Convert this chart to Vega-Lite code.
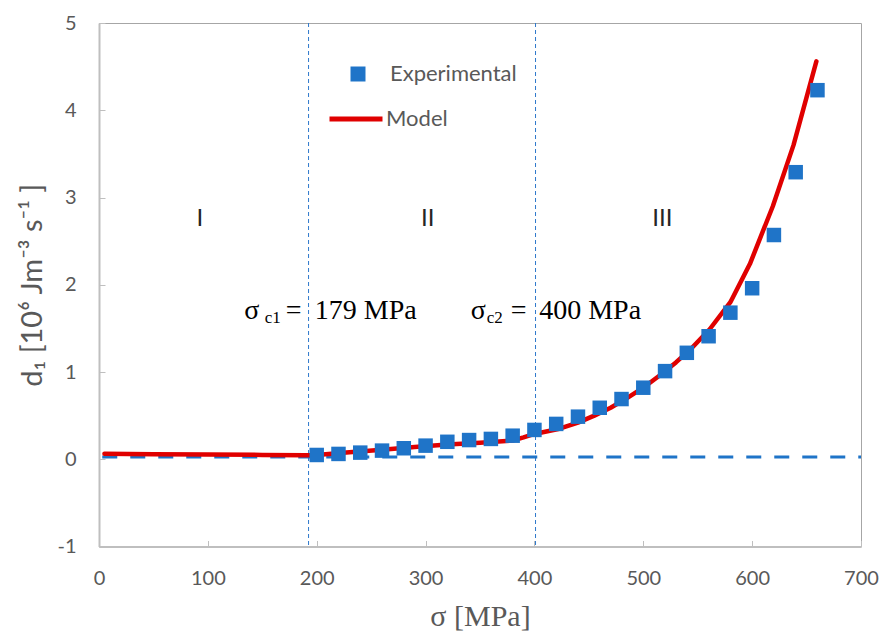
{
  "$schema": "https://vega.github.io/schema/vega-lite/v6.json",
  "autosize": {"type": "none"},
  "width": 762,
  "height": 523.5,
  "padding": {"left": 99, "top": 23, "right": 21, "bottom": 88.5},
  "background": "white",
  "config": {
    "view": {"stroke": "#a6a6a6", "strokeWidth": 1},
    "axis": {
      "grid": false,
      "domainColor": "#bfbfbf",
      "domainWidth": 2,
      "tickColor": "#bfbfbf",
      "tickSize": -6,
      "tickWidth": 1,
      "labelFlush": false,
      "labelOverlap": false,
      "labelFont": "Lato",
      "labelFontSize": 20,
      "labelColor": "#595959",
      "titleColor": "#595959",
      "titleFontWeight": "normal"
    }
  },
  "datasets": {
    "experimental": [
      {"sigma": 200, "d1": 0.049, "series": "Experimental"},
      {"sigma": 220, "d1": 0.061, "series": "Experimental"},
      {"sigma": 240, "d1": 0.076, "series": "Experimental"},
      {"sigma": 260, "d1": 0.099, "series": "Experimental"},
      {"sigma": 280, "d1": 0.126, "series": "Experimental"},
      {"sigma": 300, "d1": 0.156, "series": "Experimental"},
      {"sigma": 320, "d1": 0.2, "series": "Experimental"},
      {"sigma": 340, "d1": 0.22, "series": "Experimental"},
      {"sigma": 360, "d1": 0.233, "series": "Experimental"},
      {"sigma": 380, "d1": 0.27, "series": "Experimental"},
      {"sigma": 400, "d1": 0.336, "series": "Experimental"},
      {"sigma": 420, "d1": 0.405, "series": "Experimental"},
      {"sigma": 440, "d1": 0.488, "series": "Experimental"},
      {"sigma": 460, "d1": 0.59, "series": "Experimental"},
      {"sigma": 480, "d1": 0.69, "series": "Experimental"},
      {"sigma": 500, "d1": 0.82, "series": "Experimental"},
      {"sigma": 520, "d1": 1.01, "series": "Experimental"},
      {"sigma": 540, "d1": 1.22, "series": "Experimental"},
      {"sigma": 560, "d1": 1.41, "series": "Experimental"},
      {"sigma": 580, "d1": 1.68, "series": "Experimental"},
      {"sigma": 600, "d1": 1.96, "series": "Experimental"},
      {"sigma": 620, "d1": 2.57, "series": "Experimental"},
      {"sigma": 640, "d1": 3.29, "series": "Experimental"},
      {"sigma": 660, "d1": 4.23, "series": "Experimental"}
    ],
    "model": [
      {"sigma": 5, "d1": 0.062, "series": "Model"},
      {"sigma": 50, "d1": 0.058, "series": "Model"},
      {"sigma": 100, "d1": 0.055, "series": "Model"},
      {"sigma": 150, "d1": 0.05, "series": "Model"},
      {"sigma": 190, "d1": 0.047, "series": "Model"},
      {"sigma": 200, "d1": 0.05, "series": "Model"},
      {"sigma": 230, "d1": 0.08, "series": "Model"},
      {"sigma": 260, "d1": 0.11, "series": "Model"},
      {"sigma": 290, "d1": 0.14, "series": "Model"},
      {"sigma": 320, "d1": 0.17, "series": "Model"},
      {"sigma": 350, "d1": 0.19, "series": "Model"},
      {"sigma": 380, "d1": 0.215, "series": "Model"},
      {"sigma": 390, "d1": 0.25, "series": "Model"},
      {"sigma": 400, "d1": 0.29, "series": "Model"},
      {"sigma": 423, "d1": 0.35, "series": "Model"},
      {"sigma": 440, "d1": 0.42, "series": "Model"},
      {"sigma": 455, "d1": 0.5, "series": "Model"},
      {"sigma": 470, "d1": 0.59, "series": "Model"},
      {"sigma": 485, "d1": 0.7, "series": "Model"},
      {"sigma": 500, "d1": 0.82, "series": "Model"},
      {"sigma": 515, "d1": 0.96, "series": "Model"},
      {"sigma": 530, "d1": 1.11, "series": "Model"},
      {"sigma": 545, "d1": 1.28, "series": "Model"},
      {"sigma": 561, "d1": 1.49, "series": "Model"},
      {"sigma": 580, "d1": 1.8, "series": "Model"},
      {"sigma": 598, "d1": 2.24, "series": "Model"},
      {"sigma": 619, "d1": 2.9, "series": "Model"},
      {"sigma": 638, "d1": 3.6, "series": "Model"},
      {"sigma": 659, "d1": 4.56, "series": "Model"}
    ],
    "critical": [
      {"sigma": 192.5},
      {"sigma": 401}
    ],
    "baseline": [
      {"start": 3, "end": 700, "level": 0.026}
    ],
    "regions": [
      {"label": "I", "sigma": 92.6, "d1": 2.75},
      {"label": "II", "sigma": 302, "d1": 2.75},
      {"label": "III", "sigma": 517.6, "d1": 2.75}
    ],
    "annotMain": [
      {"text": "σ", "sigma": 133.4, "d1": 1.602},
      {"text": "=", "sigma": 171.5, "d1": 1.602},
      {"text": "179 MPa", "sigma": 198.3, "d1": 1.602},
      {"text": "σ", "sigma": 341.6, "d1": 1.602},
      {"text": "=", "sigma": 378.2, "d1": 1.602},
      {"text": "400 MPa", "sigma": 404.4, "d1": 1.602}
    ],
    "annotSub": [
      {"text": "c1", "sigma": 152.2, "d1": 1.556},
      {"text": "c2", "sigma": 356.2, "d1": 1.556}
    ]
  },
  "encoding": {
    "x": {
      "field": "sigma",
      "type": "quantitative",
      "scale": {"domain": [0, 700], "nice": false, "zero": false},
      "axis": {
        "values": [0, 100, 200, 300, 400, 500, 600, 700],
        "labelPadding": 28,
        "title": "σ [MPa]",
        "titleFont": "Liberation Serif",
        "titleFontSize": 30,
        "titlePadding": 13
      }
    },
    "y": {
      "field": "d1",
      "type": "quantitative",
      "scale": {"domain": [-1, 5], "nice": false, "zero": false},
      "axis": {
        "values": [-1, 0, 1, 2, 3, 4, 5],
        "labelPadding": 29,
        "labelExpr": "replace(datum.label, '−', '-')",
        "title": "d₁  [10⁶ Jm⁻³ s⁻¹ ]",
        "titleFont": "Lato",
        "titleFontSize": 29,
        "titlePadding": 9
      }
    }
  },
  "layer": [
    {
      "data": {"name": "critical"},
      "mark": {"type": "rule", "color": "#2e78cc", "strokeWidth": 1, "strokeDash": [4, 3]},
      "encoding": {"y": null}
    },
    {
      "data": {"name": "baseline"},
      "mark": {"type": "rule", "color": "#1f74c8", "strokeWidth": 3, "strokeDash": [15, 13]},
      "encoding": {
        "x": {"field": "start", "type": "quantitative"},
        "x2": {"field": "end"},
        "y": {"field": "level", "type": "quantitative"}
      }
    },
    {
      "data": {"name": "model"},
      "mark": {"type": "line", "strokeWidth": 4.5, "strokeJoin": "round", "strokeCap": "round"},
      "encoding": {
        "stroke": {
          "field": "series",
          "type": "nominal",
          "scale": {"domain": ["Model"], "range": ["#e00000"]},
          "legend": {
            "orient": "none",
            "legendX": 228,
            "legendY": 67,
            "title": null,
            "padding": 0,
            "symbolType": "stroke",
            "symbolSize": 2809,
            "symbolStrokeWidth": 5,
            "labelOffset": 1,
            "labelFont": "Lato",
            "labelFontSize": 22,
            "labelColor": "#595959"
          }
        }
      }
    },
    {
      "data": {"name": "experimental"},
      "mark": {"type": "square", "size": 210, "opacity": 1},
      "encoding": {
        "fill": {
          "field": "series",
          "type": "nominal",
          "scale": {"domain": ["Experimental"], "range": ["#1f74c8"]},
          "legend": {
            "orient": "none",
            "legendX": 248,
            "legendY": 40,
            "title": null,
            "padding": 0,
            "symbolType": "square",
            "symbolSize": 225,
            "symbolOpacity": 1,
            "labelOffset": 21,
            "labelFont": "Lato",
            "labelFontSize": 22,
            "labelColor": "#595959"
          }
        }
      }
    },
    {
      "data": {"name": "regions"},
      "mark": {"type": "text", "font": "Lato", "fontSize": 24, "color": "#262626", "align": "center", "baseline": "middle"},
      "encoding": {"text": {"field": "label"}}
    },
    {
      "data": {"name": "annotMain"},
      "mark": {"type": "text", "font": "Liberation Serif", "fontSize": 28, "color": "#000000", "align": "left", "baseline": "alphabetic"},
      "encoding": {"text": {"field": "text"}}
    },
    {
      "data": {"name": "annotSub"},
      "mark": {"type": "text", "font": "Liberation Serif", "fontSize": 17, "color": "#000000", "align": "left", "baseline": "alphabetic"},
      "encoding": {"text": {"field": "text"}}
    }
  ]
}
